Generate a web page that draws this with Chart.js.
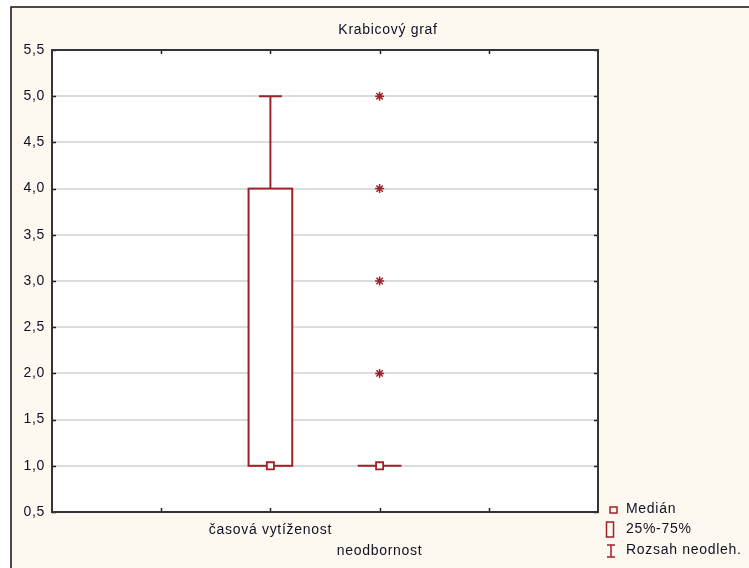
<!DOCTYPE html>
<html><head><meta charset="utf-8">
<script src="https://cdn.jsdelivr.net/npm/chart.js@4/dist/chart.umd.min.js"></script>
<style>html,body{margin:0;padding:0;background:#fff;overflow:hidden}#wrap{width:749px;height:568px;position:relative}canvas{display:block}</style>
</head><body><div id="wrap"><canvas id="c" width="749" height="568"></canvas></div>
<script>
// ---- data ----
const chartTitle = 'Krabicový graf';
const categories = ['časová vytíženost', 'neodbornost'];
const medians = [1, 1];
const q1 = [1, 1];
const q3 = [4, 1];
const whiskerLow = [1, 1];
const whiskerHigh = [5, 1];
const extremes = [[], [2, 3, 4, 5]];
const yMin = 0.5, yMax = 5.5, yStep = 0.5;
const legendLabels = ['Medián', '25%-75%', 'Rozsah neodleh.'];

// ---- style ----
const RED = '#9e2128';
const TXT = '#111122';
const FONT = '"Liberation Sans", Arial, sans-serif';
const BOX_W = 0.4;   // in category units
const CAP_W = 0.21;

const medianPoints = categories.map((c, i) => ({x: i, y: medians[i]}));
const extremePoints = [];
extremes.forEach((arr, i) => arr.forEach(v => extremePoints.push({x: i, y: v})));

const bgPlugin = {
  id: 'bg',
  beforeDraw(chart) {
    const ctx = chart.ctx;
    ctx.letterSpacing = '0.7px';
    ctx.save();
    ctx.fillStyle = '#ffffff';
    ctx.fillRect(0, 0, chart.width, chart.height);
    ctx.fillStyle = '#fdf9f0';
    ctx.fillRect(11, 7, chart.width - 11, chart.height - 7);
    ctx.strokeStyle = '#111';
    ctx.lineWidth = 1.5;
    ctx.beginPath();
    ctx.moveTo(11, chart.height); ctx.lineTo(11, 7); ctx.lineTo(chart.width, 7);
    ctx.stroke();
    const a = chart.chartArea;
    ctx.fillStyle = '#ffffff';
    ctx.fillRect(a.left, a.top, a.right - a.left, a.bottom - a.top);
    ctx.restore();
  },
  beforeDatasetsDraw(chart) {
    const ctx = chart.ctx, xs = chart.scales.x, ys = chart.scales.y;
    ctx.save();
    ctx.strokeStyle = RED;
    ctx.lineWidth = 2;
    categories.forEach((c, i) => {
      const xc = xs.getPixelForValue(i);
      const hw = (xs.getPixelForValue(i + BOX_W / 2) - xs.getPixelForValue(i - BOX_W / 2)) / 2;
      const cw = (xs.getPixelForValue(i + CAP_W / 2) - xs.getPixelForValue(i - CAP_W / 2)) / 2;
      const yTop = ys.getPixelForValue(q3[i]), yBot = ys.getPixelForValue(q1[i]);
      const yHi = ys.getPixelForValue(whiskerHigh[i]), yLo = ys.getPixelForValue(whiskerLow[i]);
      ctx.beginPath();
      if (whiskerHigh[i] > q3[i]) {
        ctx.moveTo(xc, yTop); ctx.lineTo(xc, yHi);
        ctx.moveTo(xc - cw, yHi); ctx.lineTo(xc + cw, yHi);
      }
      if (whiskerLow[i] < q1[i]) {
        ctx.moveTo(xc, yBot); ctx.lineTo(xc, yLo);
        ctx.moveTo(xc - cw, yLo); ctx.lineTo(xc + cw, yLo);
      }
      ctx.stroke();
      ctx.fillStyle = '#ffffff';
      ctx.fillRect(xc - hw, yTop, 2 * hw, yBot - yTop);
      ctx.strokeRect(xc - hw, yTop, 2 * hw, yBot - yTop);
    });
    ctx.restore();
  },
  afterDraw(chart) {
    const ctx = chart.ctx, xs = chart.scales.x, ys = chart.scales.y, a = chart.chartArea;
    ctx.save();
    // inward ticks
    ctx.strokeStyle = '#222';
    ctx.lineWidth = 1.5;
    ctx.beginPath();
    xs.ticks.forEach(t => {
      if (t.value <= xs.min || t.value >= xs.max) return;
      const x = Math.round(xs.getPixelForValue(t.value)) + 0.5;
      ctx.moveTo(x, a.top); ctx.lineTo(x, a.top + 4);
      ctx.moveTo(x, a.bottom); ctx.lineTo(x, a.bottom - 4);
    });
    ys.ticks.forEach(t => {
      const y = Math.round(ys.getPixelForValue(t.value)) + 0.5;
      ctx.moveTo(a.left, y); ctx.lineTo(a.left + 4, y);
      ctx.moveTo(a.right, y); ctx.lineTo(a.right - 4, y);
    });
    ctx.stroke();
    // frame
    ctx.strokeStyle = '#333';
    ctx.lineWidth = 2;
    ctx.strokeRect(a.left, a.top, a.right - a.left, a.bottom - a.top);
    // title
    ctx.fillStyle = TXT;
    ctx.font = '14px ' + FONT;
    ctx.textAlign = 'center';
    ctx.textBaseline = 'middle';
    ctx.fillText(chartTitle, 388, 30);
    // legend
    ctx.strokeStyle = RED;
    ctx.lineWidth = 1.5;
    ctx.strokeRect(610, 507, 7, 6);
    ctx.strokeRect(606.5, 522, 7, 15);
    ctx.beginPath();
    ctx.moveTo(611, 545); ctx.lineTo(611, 557);
    ctx.moveTo(607, 545); ctx.lineTo(615, 545);
    ctx.moveTo(607, 557); ctx.lineTo(615, 557);
    ctx.stroke();
    ctx.fillStyle = TXT;
    ctx.textAlign = 'left';
    legendLabels.forEach((l, i) => ctx.fillText(l, 626, 509 + i * 20.5));
    ctx.restore();
  }
};

new Chart(document.getElementById('c'), {
  type: 'scatter',
  data: {
    datasets: [
      { label: 'median', data: medianPoints, pointStyle: 'rect', pointRadius: 5,
        pointBackgroundColor: '#ffffff', pointBorderColor: RED, pointBorderWidth: 1.8 },
      { label: 'extremes', data: extremePoints, pointStyle: 'star', pointRadius: 4.5,
        pointBorderColor: RED, pointBackgroundColor: RED, pointBorderWidth: 1.5 }
    ]
  },
  options: {
    responsive: false, animation: false, devicePixelRatio: 1,
    layout: { padding: { top: 50, right: 151, left: 0, bottom: 0 } },
    plugins: { legend: { display: false }, tooltip: { enabled: false }, title: { display: false } },
    scales: {
      x: {
        type: 'linear', min: -2, max: 3,
        grid: { display: false, drawTicks: false }, border: { display: false },
        ticks: {
          stepSize: 1, autoSkip: false, maxRotation: 0, padding: 7.5,
          color: TXT, font: { family: FONT, size: 14, lineHeight: 1.5 },
          callback: v => (categories[v] !== undefined ? (v % 2 === 1 ? ['', categories[v]] : categories[v]) : '')
        },
        afterFit: s => { s.height = 56; }
      },
      y: {
        min: yMin, max: yMax,
        grid: { color: '#dcdcdc', lineWidth: 2, drawTicks: false }, border: { display: false },
        ticks: {
          stepSize: yStep, padding: 7, color: TXT, font: { family: FONT, size: 14 },
          callback: v => v.toFixed(1).replace('.', ',')
        },
        afterFit: s => { s.width = 52; }
      }
    }
  },
  plugins: [bgPlugin]
});
</script></body></html>
